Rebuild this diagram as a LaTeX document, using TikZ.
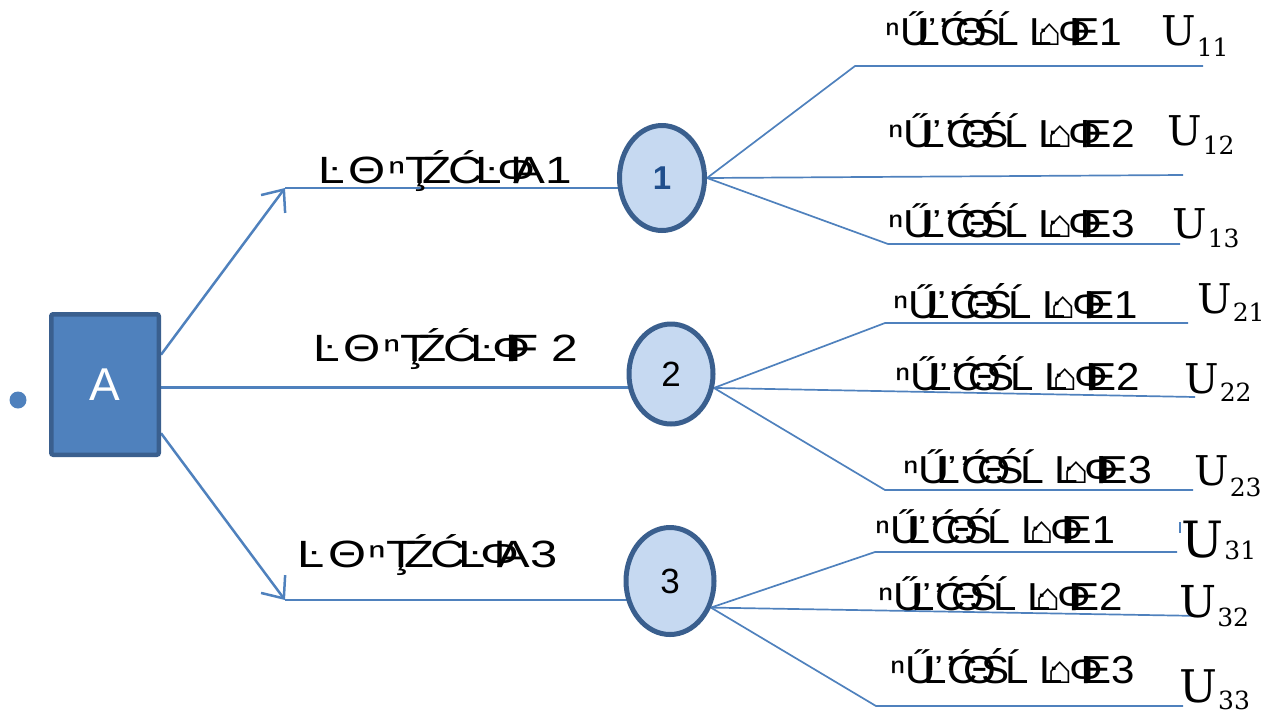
\documentclass[tikz,border=0pt]{standalone}
\usepackage{fontspec}
\setmainfont{Liberation Sans}
\newfontfamily\userif{DejaVu Serif}
\usetikzlibrary{shapes.geometric,arrows.meta,backgrounds}
\definecolor{linkblue}{HTML}{4F81BD}
\definecolor{edgeblue}{HTML}{3A5F8E}
\definecolor{chancefill}{HTML}{C6D9F1}
\definecolor{numblue}{HTML}{1F4E8C}
\newcommand{\fitw}[2]{\resizebox{#1}{\height}{#2}}
\newcommand{\garbA}[1]{Ŀ\kern.08em Θ\kern.05em ⁿŢ\kern-.25em Ź\kern-.08em Ć\kern-.15em Ŀ\kern-.1em Φ\kern-.45em #1}
\newcommand{\garbB}[1]{ⁿŰ\kern-.3em Ľ’\kern-.2em Ć\kern-.35em Θ\kern-.35em Ś\kern-.1em Ĺ\kern.25em Ŀ\kern-.35em ⌂\kern-.1em Φ\kern-.45em E#1}
\newcommand{\ulab}[3][41]{{\userif\fontsize{#1}{#1}\selectfont U}\kern1pt\raisebox{#2}{\userif\fontsize{25}{25}\selectfont #3}}
\begin{document}
\begin{tikzpicture}[x=1pt,y=-1pt,
  conn/.style={draw=linkblue, line width=2.5pt},
  branch/.style={draw=linkblue, line width=1.7pt},
  barb/.style={-{Straight Barb[length=18pt,width=30pt,line width=2.5pt]}},
  decision/.style={rectangle, rounded corners=2pt, fill=linkblue, draw=edgeblue,
    line width=4.5pt, minimum width=107.5pt, minimum height=140.5pt, inner sep=0,
    text=white, font=\fontsize{46}{46}\selectfont},
  chance/.style={ellipse, fill=chancefill, draw=edgeblue, line width=5pt, inner sep=0,
    font=\fontsize{35}{35}\selectfont},
  choice/.style={anchor=base west, inner sep=0, font=\fontsize{38}{38}\selectfont},
  outcome/.style={anchor=base west, inner sep=0, font=\fontsize{39}{39}\selectfont},
  utility/.style={anchor=base west, inner sep=0}
]
\useasboundingbox (0,0) rectangle (1266,713);

% nodes
\node[circle, fill=linkblue, minimum size=17pt, inner sep=0] (dot) at (18,400) {};
\node[decision] (A) at (105,384.5) {A};
\node[chance, minimum width=85pt, minimum height=105pt] (n1) at (662,178)
  {\textcolor{numblue}{\bfseries\fontsize{33}{33}\selectfont 1}};
\node[chance, minimum width=84pt, minimum height=100pt] (n2) at (671,374) {2};
\node[chance, minimum width=88pt, minimum height=107pt] (n3) at (670,581) {3};

% coordinates
\coordinate (k1) at (285,188);
\coordinate (k3) at (285,600);
\coordinate (b11) at (855,66);  \coordinate (e11) at (1203,66);
\coordinate (e12) at (1183,175);
\coordinate (b13) at (888,244); \coordinate (e13) at (1180,244);
\coordinate (b21) at (885,323); \coordinate (e21) at (1188,323);
\coordinate (e22) at (1195,397);
\coordinate (b23) at (885,490); \coordinate (e23) at (1193,490);
\coordinate (b31) at (875,552); \coordinate (e31) at (1177,552);
\coordinate (e32) at (1203,616);
\coordinate (b33) at (876,706); \coordinate (e33) at (1183,706);

% connectors
\begin{pgfonlayer}{background}
\draw[conn,barb] (A.28) -- (k1);
\draw[conn] (k1) -- (k1 -| n1.center);
\draw[conn] (A.-3) -- (A.-3 -| n2.center);
\draw[conn,barb] (A.-41) -- (k3);
\draw[conn] (k3) -- (k3 -| n3.center);
\draw[branch] (n1.east) -- (b11) -- (e11);
\draw[branch] (n1.east) -- (e12);
\draw[branch] (n1.east) -- (b13) -- (e13);
\draw[branch] (n2.-18) -- (b21) -- (e21);
\draw[branch] (n2.-18) -- (e22);
\draw[branch] (n2.-18) -- (b23) -- (e23);
\draw[branch] (n3.-33) -- (b31) -- (e31);
\draw[branch] (n3.-33) -- (e32);
\draw[branch] (n3.-33) -- (b33) -- (e33);
\end{pgfonlayer}
\draw[branch] (1180,522) -- (1180,533);

% choice labels
\node[choice] (c1) at (318,183) {\fitw{254pt}{\garbA{A1}}};
\node[choice] (c2) at (313,361) {\fitw{265pt}{\garbA{F 2}}};
\node[choice] (c3) at (297,567) {\fitw{260pt}{\garbA{A3}}};

% outcome labels
\node[outcome] (l11) at (885,45)  {\fitw{237pt}{\garbB{1}}};
\node[outcome] (l12) at (888,147) {\fitw{247pt}{\garbB{2}}};
\node[outcome] (l13) at (888,237) {\fitw{247pt}{\garbB{3}}};
\node[outcome] (l21) at (893,318) {\fitw{245pt}{\garbB{1}}};
\node[outcome] (l22) at (895,390) {\fitw{245pt}{\garbB{2}}};
\node[outcome] (l23) at (903,483) {\fitw{249pt}{\garbB{3}}};
\node[outcome] (l31) at (875,543) {\fitw{240pt}{\garbB{1}}};
\node[outcome] (l32) at (878,610) {\fitw{245pt}{\garbB{2}}};
\node[outcome] (l33) at (890,683) {\fitw{245pt}{\garbB{3}}};

% utilities
\node[utility] (u11) at (1161,45)  {\ulab{-11pt}{11}};
\node[utility] (u12) at (1167,145) {\ulab{-9pt}{12}};
\node[utility] (u13) at (1172,238) {\ulab{-9pt}{13}};
\node[utility] (u21) at (1197,313) {\ulab{-8pt}{21}};
\node[utility] (u22) at (1184,393) {\ulab{-8pt}{22}};
\node[utility] (u23) at (1194,485) {\ulab{-11pt}{23}};
\node[utility] (u31) at (1181,557) {\ulab[50]{-2pt}{31}};
\node[utility] (u32) at (1179,617) {\ulab[44]{-9pt}{32}};
\node[utility] (u33) at (1179,702) {\ulab[45]{-7pt}{33}};
\end{tikzpicture}
\end{document}
